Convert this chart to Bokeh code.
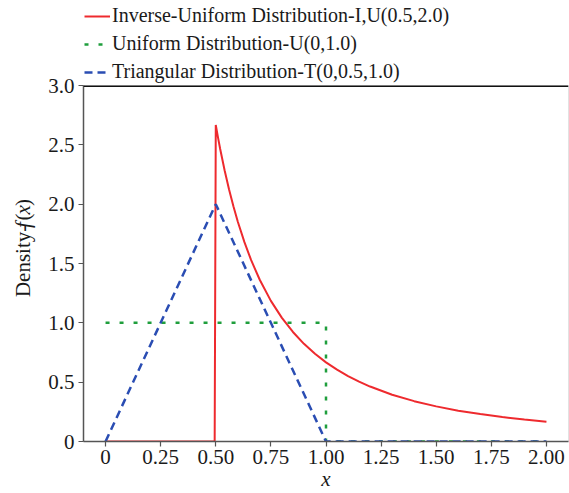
from bokeh.plotting import figure
from bokeh.models import Legend, LegendItem, Label, Span, FixedTicker
from bokeh.layouts import column, row
from bokeh.embed import file_html
from bokeh.resources import INLINE

# ---- data ----
inv_x = [0, 0.495, 0.50, 0.51, 0.52, 0.54, 0.56, 0.58, 0.60, 0.63, 0.66, 0.70, 0.75,
         0.80, 0.85, 0.90, 0.95, 1.00, 1.05, 1.10, 1.15, 1.20, 1.30, 1.40, 1.50,
         1.60, 1.70, 1.80, 1.90, 2.00]
inv_y = [0, 0, 2.667, 2.563, 2.465, 2.286, 2.126, 1.982, 1.852, 1.680, 1.530, 1.361, 1.185,
         1.042, 0.923, 0.823, 0.739, 0.667, 0.605, 0.551, 0.504, 0.463, 0.394, 0.340, 0.296,
         0.260, 0.231, 0.206, 0.185, 0.167]

uni_x = [0, 1.0, 1.0, 2.0]
uni_y = [1.0, 1.0, 0, 0]

tri_x = [0, 0.5, 1.0, 2.0]
tri_y = [0, 2.0, 0, 0]

labels = ["Inverse-Uniform Distribution-I,U(0.5,2.0)",
          "Uniform Distribution-U(0,1.0)",
          "Triangular Distribution-T(0,0.5,1.0)"]

x_ticks = [0, 0.25, 0.5, 0.75, 1.0, 1.25, 1.5, 1.75, 2.0]
x_tick_labels = ["0", "0.25", "0.50", "0.75", "1.00", "1.25", "1.50", "1.75", "2.00"]
y_ticks = [0, 0.5, 1.0, 1.5, 2.0, 2.5, 3.0]
y_tick_labels = ["0", "0.5", "1.0", "1.5", "2.0", "2.5", "3.0"]

RED = "#ee2a2e"
GREEN = "#1f9e3c"
BLUE = "#2a4db3"
FONT = "Liberation Serif"
TXT = "#1a1a1a"

styles = [dict(line_color=RED, line_width=2),
          dict(line_color=GREEN, line_width=2.5, line_dash="4 10"),
          dict(line_color=BLUE, line_width=2.5, line_dash="8 5")]

# ---------------- main plot ----------------
p = figure(width=529, height=418, x_range=(-0.1, 2.1), y_range=(0, 3.0),
           output_backend="svg", toolbar_location=None,
           min_border_left=43, min_border_right=1, min_border_bottom=50,
           min_border_top=10)
p.xgrid.visible = False
p.ygrid.visible = False
p.outline_line_color = "#e2e2e2"
p.background_fill_color = "white"
p.border_fill_color = None

p.line(inv_x, inv_y, **styles[0])
p.line(uni_x, uni_y, **styles[1])
p.line(tri_x, tri_y, **styles[2])

for ax in (p.xaxis[0], p.yaxis[0]):
    ax.axis_line_color = "#555555"
    ax.axis_line_width = 1.5
    ax.major_tick_line_color = "#555555"
    ax.major_tick_line_width = 1.2
    ax.major_tick_out = 5
    ax.major_tick_in = 0
    ax.minor_tick_line_color = None
    ax.major_label_text_font = FONT
    ax.major_label_text_font_size = "21px"
    ax.major_label_text_color = TXT

p.xaxis.ticker = FixedTicker(ticks=x_ticks)
p.xaxis.major_label_overrides = {t: l for t, l in zip(x_ticks, x_tick_labels)}
p.yaxis.ticker = FixedTicker(ticks=y_ticks)
p.yaxis.major_label_overrides = {t: l for t, l in zip(y_ticks, y_tick_labels)}
p.xaxis.major_label_standoff = 3
p.yaxis.major_label_standoff = 4

p.xaxis.axis_label = "x"
p.xaxis.axis_label_text_font = FONT
p.xaxis.axis_label_text_font_style = "italic"
p.xaxis.axis_label_text_font_size = "21px"
p.xaxis.axis_label_text_color = TXT
p.xaxis.axis_label_standoff = 0

# dark top border of the frame
p.add_layout(Span(location=3.0, dimension="width", line_color="#111111", line_width=3))

# ---------------- y-axis label strip ----------------
yl = figure(width=40, height=418, x_range=(0, 40), y_range=(0, 418),
            output_backend="svg", toolbar_location=None,
            x_axis_type=None, y_axis_type=None, min_border=0)
yl.xgrid.visible = False
yl.ygrid.visible = False
yl.outline_line_color = None
yl.border_fill_color = None
yl.background_fill_color = None
# (text, style, canvas y of the piece's centre)
pieces = [("Density-", "normal", 281), ("f", "italic", 239), ("(", "normal", 229.5),
          ("x", "italic", 221), (")", "normal", 212.5)]
for txt, style, ycan in pieces:
    yl.add_layout(Label(x=22, y=493 - ycan, text=txt, angle=1.5707963,
                        text_font=FONT, text_font_style=style, text_font_size="21px",
                        text_color=TXT, text_align="center", text_baseline="middle"))

# ---------------- legend strip ----------------
lg = figure(width=569, height=85, x_range=(0, 1), y_range=(0, 1),
            output_backend="svg", toolbar_location=None,
            x_axis_type=None, y_axis_type=None, min_border=0)
lg.xgrid.visible = False
lg.ygrid.visible = False
lg.outline_line_color = None
lg.margin = (0, 0, -10, 0)
rs = [lg.line([-5, -4], [-5, -4], **s) for s in styles]
legend = Legend(items=[LegendItem(label=l, renderers=[r]) for l, r in zip(labels, rs)],
                location=(84, 2), orientation="vertical",
                border_line_color=None, background_fill_alpha=0,
                label_text_font=FONT, label_text_font_size="20px",
                label_text_color=TXT,
                glyph_width=26, glyph_height=22, label_height=22,
                spacing=5, padding=1, margin=0, label_standoff=2)
lg.add_layout(legend)

layout = column(lg, row(yl, p, spacing=0), spacing=0)
open("out.html", "w").write(file_html(layout, INLINE))
